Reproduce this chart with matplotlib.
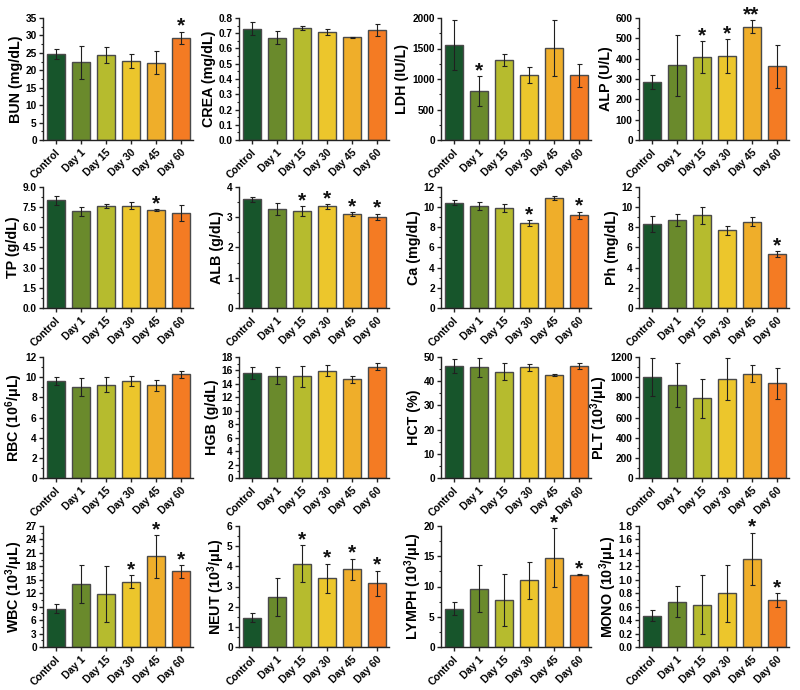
import matplotlib
matplotlib.use('Agg')
import matplotlib.pyplot as plt
import numpy as np
from matplotlib.ticker import MultipleLocator, FormatStrFormatter, AutoMinorLocator

plt.rcParams['font.family'] = ['Liberation Sans', 'DejaVu Sans']
plt.rcParams['font.weight'] = 'bold'
plt.rcParams['mathtext.fontset'] = 'custom'
plt.rcParams['mathtext.rm'] = 'Liberation Sans:bold'
plt.rcParams['mathtext.bf'] = 'Liberation Sans:bold'
plt.rcParams['mathtext.it'] = 'Liberation Sans:bold:italic'

groups = ['Control', 'Day 1', 'Day 15', 'Day 30', 'Day 45', 'Day 60']
colors = ['#17552b', '#6a8a2c', '#b6bb2e', '#ecc62c', '#efae2a', '#f47b23']

bun_mean = [24.7, 22.3, 24.4, 22.6, 22.1, 29.3]
bun_err = [1.4, 4.7, 2.2, 2.0, 3.3, 1.8]
bun_sig = ['', '', '', '', '', '*']

crea_mean = [0.730, 0.671, 0.735, 0.708, 0.673, 0.719]
crea_err = [0.041, 0.042, 0.012, 0.021, 0.003, 0.040]
crea_sig = ['', '', '', '', '', '']

ldh_mean = [1562, 800, 1315, 1063, 1507, 1058]
ldh_err = [410, 247, 100, 126, 463, 195]
ldh_sig = ['', '*', '', '', '', '']

alp_mean = [285, 368, 408, 414, 556, 362]
alp_err = [36, 150, 77, 83, 32, 107]
alp_sig = ['', '', '*', '*', '**', '']

tp_mean = [8.00, 7.19, 7.59, 7.61, 7.29, 7.04]
tp_err = [0.31, 0.33, 0.17, 0.27, 0.04, 0.60]
tp_sig = ['', '', '', '', '*', '']

alb_mean = [3.59, 3.28, 3.20, 3.36, 3.10, 3.02]
alb_err = [0.07, 0.19, 0.16, 0.08, 0.06, 0.10]
alb_sig = ['', '', '*', '*', '*', '*']

ca_mean = [10.46, 10.07, 9.93, 8.45, 10.92, 9.18]
ca_err = [0.25, 0.40, 0.43, 0.30, 0.16, 0.38]
ca_sig = ['', '', '', '*', '', '*']

ph_mean = [8.36, 8.72, 9.18, 7.70, 8.55, 5.33]
ph_err = [0.80, 0.61, 0.87, 0.48, 0.44, 0.28]
ph_sig = ['', '', '', '', '', '*']

rbc_mean = [9.59, 9.02, 9.26, 9.59, 9.19, 10.28]
rbc_err = [0.41, 0.90, 0.74, 0.51, 0.55, 0.38]
rbc_sig = ['', '', '', '', '', '']

hgb_mean = [15.64, 15.20, 15.15, 15.94, 14.66, 16.58]
hgb_err = [0.89, 1.25, 1.57, 0.84, 0.47, 0.52]
hgb_sig = ['', '', '', '', '', '']

hct_mean = [46.4, 45.7, 44.0, 45.7, 42.6, 46.3]
hct_err = [2.9, 4.0, 3.7, 1.5, 0.5, 1.3]
hct_sig = ['', '', '', '', '', '']

plt_mean = [1000, 921, 789, 984, 1036, 938]
plt_err = [191, 217, 196, 207, 80, 150]
plt_sig = ['', '', '', '', '', '']

wbc_mean = [8.5, 14.1, 11.8, 14.6, 20.2, 16.9]
wbc_err = [1.0, 4.3, 6.25, 1.37, 4.75, 1.4]
wbc_sig = ['', '', '', '*', '*', '*']

neut_mean = [1.45, 2.48, 4.14, 3.40, 3.85, 3.16]
neut_err = [0.22, 0.95, 0.90, 0.73, 0.53, 0.63]
neut_sig = ['', '', '*', '*', '*', '*']

lymph_mean = [6.36, 9.64, 7.78, 11.01, 14.79, 11.95]
lymph_err = [1.04, 3.86, 4.35, 3.10, 4.85, 0.10]
lymph_sig = ['', '', '', '', '*', '*']

mono_mean = [0.464, 0.676, 0.626, 0.80, 1.31, 0.70]
mono_err = [0.08, 0.237, 0.44, 0.425, 0.39, 0.10]
mono_sig = ['', '', '', '', '*', '*']

panels = [
    ('BUN (mg/dL)', bun_mean, bun_err, bun_sig, 35, 5, '%d'),
    ('CREA (mg/dL)', crea_mean, crea_err, crea_sig, 0.8, 0.1, '%.1f'),
    ('LDH (IU/L)', ldh_mean, ldh_err, ldh_sig, 2000, 500, '%d'),
    ('ALP (U/L)', alp_mean, alp_err, alp_sig, 600, 100, '%d'),
    ('TP (g/dL)', tp_mean, tp_err, tp_sig, 9, 1.5, '%.1f'),
    ('ALB (g/dL)', alb_mean, alb_err, alb_sig, 4, 1, '%d'),
    ('Ca (mg/dL)', ca_mean, ca_err, ca_sig, 12, 2, '%d'),
    ('Ph (mg/dL)', ph_mean, ph_err, ph_sig, 12, 2, '%d'),
    ('RBC (10$^{6}$/\u03bcL)', rbc_mean, rbc_err, rbc_sig, 12, 2, '%d'),
    ('HGB (g/dL)', hgb_mean, hgb_err, hgb_sig, 18, 2, '%d'),
    ('HCT (%)', hct_mean, hct_err, hct_sig, 50, 10, '%d'),
    ('PLT (10$^{3}$/\u03bcL)', plt_mean, plt_err, plt_sig, 1200, 200, '%d'),
    ('WBC (10$^{3}$/\u03bcL)', wbc_mean, wbc_err, wbc_sig, 27, 3, '%d'),
    ('NEUT (10$^{3}$/\u03bcL)', neut_mean, neut_err, neut_sig, 6, 1, '%d'),
    ('LYMPH (10$^{3}$/\u03bcL)', lymph_mean, lymph_err, lymph_sig, 20, 5, '%d'),
    ('MONO (10$^{3}$/\u03bcL)', mono_mean, mono_err, mono_sig, 1.8, 0.2, '%.1f'),
]

W, H = 800, 690
fig = plt.figure(figsize=(8, 6.9), dpi=100)
lefts = [43, 239, 441, 639]
tops = [18, 187, 357, 526]
bottoms = [140, 308, 478, 647]
axw = 150

x = np.arange(len(groups))
for k, (lab, mean, err, sig, ymax, step, fmt) in enumerate(panels):
    r, c = divmod(k, 4)
    ax = fig.add_axes([lefts[c] / W, 1 - bottoms[r] / H, axw / W, (bottoms[r] - tops[r]) / H])
    ax.bar(x, mean, width=0.72, color=colors, edgecolor='#4a4a4a', linewidth=1.0, zorder=2)
    ax.errorbar(x, mean, yerr=err, fmt='none', ecolor='#202020', elinewidth=0.8,
                capsize=1.8, capthick=0.8, zorder=3)
    for i, s in enumerate(sig):
        if s:
            ax.annotate(s, xy=(x[i], mean[i] + err[i]), xytext=(0, -3), textcoords='offset points',
                        ha='center', va='bottom', fontsize=15, fontweight='bold',
                        annotation_clip=False, color='#111111')
    ax.set_xlim(-0.5, 5.5)
    ax.set_ylim(0, ymax)
    ax.yaxis.set_major_locator(MultipleLocator(step))
    ax.yaxis.set_minor_locator(AutoMinorLocator(2))
    ax.yaxis.set_major_formatter(FormatStrFormatter(fmt))
    ax.set_xticks(x)
    ax.set_xticklabels(groups, rotation=45, ha='right', rotation_mode='anchor', fontsize=7.5)
    for sp in ['top', 'right']:
        ax.spines[sp].set_visible(False)
    for sp in ['left', 'bottom']:
        ax.spines[sp].set_linewidth(1.0)
        ax.spines[sp].set_color('#222222')
    ax.tick_params(axis='both', which='major', direction='out', length=3, width=1,
                   pad=1.5, colors='#222222', labelcolor='black')
    ax.tick_params(axis='x', pad=2)
    ax.tick_params(axis='y', labelsize=7.3)
    ax.tick_params(axis='y', which='minor', direction='out', length=1.8, width=0.8, colors='#222222')
    ax.set_ylabel(lab, fontsize=10.3, fontweight='bold', labelpad=(0 if '$' in lab else 2))

fig.savefig('out.png', dpi=100)
